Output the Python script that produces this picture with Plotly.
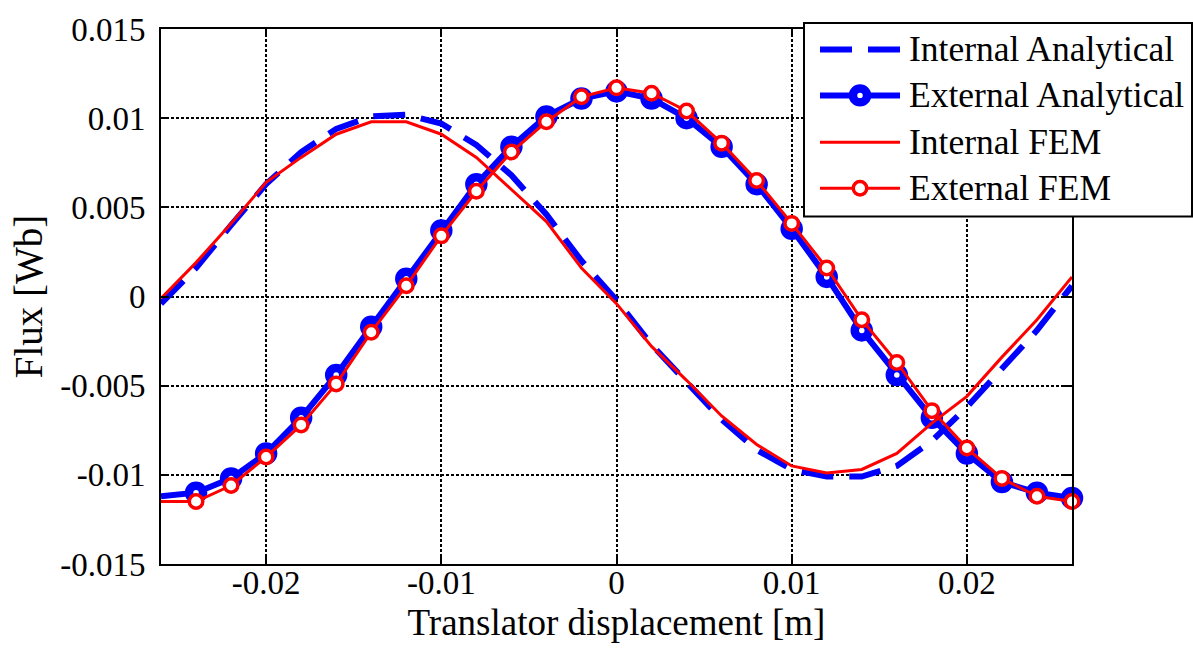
import plotly.graph_objects as go

# ---- data ----
x_disp = [-0.026, -0.024, -0.022, -0.020, -0.018, -0.016, -0.014, -0.012, -0.010,
          -0.008, -0.006, -0.004, -0.002, 0.0, 0.002, 0.004, 0.006, 0.008, 0.010,
          0.012, 0.014, 0.016, 0.018, 0.020, 0.022, 0.024, 0.026]

internal_analytical = [-0.0004, 0.0016, 0.0040, 0.0063, 0.0081, 0.0094, 0.0101, 0.0102, 0.0097,
                       0.0085, 0.0068, 0.0046, 0.0020, -0.0002, -0.0027, -0.0048, -0.0069, -0.0086,
                       -0.0097, -0.0101, -0.0101, -0.0095, -0.0081, -0.0062, -0.0040, -0.0019, 0.0006]

external_analytical = [-0.0112, -0.0110, -0.0102, -0.0088, -0.0068, -0.0044, -0.0017, 0.0010, 0.0037,
                       0.0063, 0.0084, 0.0101, 0.0111, 0.0115, 0.0111, 0.0100, 0.0084, 0.0063,
                       0.0038, 0.0011, -0.0019, -0.0044, -0.0068, -0.0088, -0.0104, -0.0110, -0.0113]

internal_fem = [-0.0001, 0.0019, 0.0041, 0.0064, 0.0078, 0.0091, 0.0098, 0.0098, 0.0091,
                0.0078, 0.0060, 0.0042, 0.0016, -0.0004, -0.0028, -0.0047, -0.0067, -0.0083,
                -0.0095, -0.0099, -0.0097, -0.0088, -0.0071, -0.0056, -0.0034, -0.0013, 0.0011]

external_fem = [-0.0115, -0.0115, -0.0106, -0.0090, -0.0072, -0.0049, -0.0020, 0.0006, 0.0034,
                0.0059, 0.0081, 0.0098, 0.0112, 0.0117, 0.0114, 0.0104, 0.0086, 0.0065,
                0.0041, 0.0016, -0.0013, -0.0037, -0.0064, -0.0085, -0.0102, -0.0112, -0.0115]

series_names = ["Internal Analytical", "External Analytical", "Internal FEM", "External FEM"]

x_tickvals = [-0.02, -0.01, 0.0, 0.01, 0.02]
x_ticktext = ["-0.02", "-0.01", "0", "0.01", "0.02"]
y_tickvals = [-0.015, -0.01, -0.005, 0.0, 0.005, 0.01, 0.015]
y_ticktext = ["-0.015", "-0.01", "-0.005", "0", "0.005", "0.01", "0.015"]

FONT = "Liberation Serif, Times New Roman, serif"
BLUE = "#0000ff"
RED = "#ff0000"

# ---- layout geometry (pixels) ----
W, H = 1193, 653
ML, MR, MT, MB = 161, 121, 22, 89
PW, PH = W - ML - MR, H - MT - MB


def px_x(px):
    return (px - ML) / PW


def px_y(py):
    return (MT + PH - py) / PH


# first sample sits on the left frame: no marker drawn there in the reference
marker_alpha = [0 if x < -0.025 else 1 for x in x_disp]

BLUE_MK = dict(size=14, width=8.5)
RED_MK = dict(size=13.5, width=3.5)
DASH = "32px,16px"

fig = go.Figure()
fig.add_trace(go.Scatter(
    x=x_disp, y=internal_analytical, mode="lines", name=series_names[0],
    line=dict(color=BLUE, width=6, dash=DASH), showlegend=False,
))
fig.add_trace(go.Scatter(
    x=x_disp, y=external_analytical, mode="lines+markers", name=series_names[1],
    line=dict(color=BLUE, width=6),
    marker=dict(symbol="circle", size=BLUE_MK["size"], color="white", opacity=marker_alpha,
                line=dict(color=BLUE, width=BLUE_MK["width"])),
    cliponaxis=False, showlegend=False,
))
fig.add_trace(go.Scatter(
    x=x_disp, y=internal_fem, mode="lines", name=series_names[2],
    line=dict(color=RED, width=3), showlegend=False,
))
fig.add_trace(go.Scatter(
    x=x_disp, y=external_fem, mode="lines+markers", name=series_names[3],
    line=dict(color=RED, width=3),
    marker=dict(symbol="circle", size=RED_MK["size"], color="white", opacity=marker_alpha,
                line=dict(color=RED, width=RED_MK["width"])),
    cliponaxis=False, showlegend=False,
))

axis_common = dict(
    showline=True, linecolor="black", linewidth=2, mirror="ticks",
    ticks="inside", ticklen=8, tickwidth=1.5, tickcolor="black",
    showgrid=True, gridcolor="black", gridwidth=1.6, griddash="3px,2px",
    zeroline=False, tickfont=dict(family=FONT, size=33, color="black"),
)

fig.update_xaxes(
    range=[-0.026, 0.026], tickvals=x_tickvals, ticktext=x_ticktext,
    ticklabelstandoff=-12,
    title=dict(text="Translator displacement [m]", font=dict(family=FONT, size=37, color="black"),
               standoff=10),
    **axis_common,
)
fig.update_yaxes(
    range=[-0.015, 0.015], tickvals=y_tickvals, ticktext=y_ticktext,
    ticklabelstandoff=7,
    title=dict(text="Flux [Wb]", font=dict(family=FONT, size=39, color="black"),
               standoff=6),
    **axis_common,
)

# ---- custom legend (box, long samples, markers, text) ----
shapes = []
annotations = []
box = dict(x0=804, x1=1192, y0=16, y1=212)
shapes.append(dict(type="rect", xref="paper", yref="paper", layer="above",
                   x0=px_x(box["x0"]), x1=px_x(box["x1"]), y0=px_y(box["y1"]), y1=px_y(box["y0"]),
                   fillcolor="white", line=dict(color="black", width=2)))
rows = [42.7, 89.3, 136.7, 183.3]
samp_x0, samp_x1, mark_x, text_x = 820, 900, 860, 907
sample_styles = [
    dict(color=BLUE, width=6, dash=DASH, marker=None),
    dict(color=BLUE, width=6, dash="solid", marker=BLUE_MK),
    dict(color=RED, width=3, dash="solid", marker=None),
    dict(color=RED, width=3, dash="solid", marker=RED_MK),
]
for name, ry, st in zip(series_names, rows, sample_styles):
    shapes.append(dict(type="line", xref="paper", yref="paper", layer="above",
                       x0=px_x(samp_x0), x1=px_x(samp_x1), y0=px_y(ry), y1=px_y(ry),
                       line=dict(color=st["color"], width=st["width"], dash=st["dash"])))
    if st["marker"] is not None:
        r = st["marker"]["size"] / 2
        shapes.append(dict(type="circle", xref="paper", yref="paper", layer="above",
                           x0=px_x(mark_x - r), x1=px_x(mark_x + r),
                           y0=px_y(ry + r), y1=px_y(ry - r),
                           fillcolor="white",
                           line=dict(color=st["color"], width=st["marker"]["width"])))
    annotations.append(dict(text=name, xref="paper", yref="paper", x=px_x(text_x), y=px_y(ry),
                            xanchor="left", yanchor="middle", showarrow=False,
                            font=dict(family=FONT, size=35.5, color="black")))

fig.update_layout(
    width=W, height=H,
    margin=dict(l=ML, r=MR, t=MT, b=MB),
    paper_bgcolor="white", plot_bgcolor="white",
    showlegend=False,
    shapes=shapes, annotations=annotations,
)

fig.write_html("out.html")
